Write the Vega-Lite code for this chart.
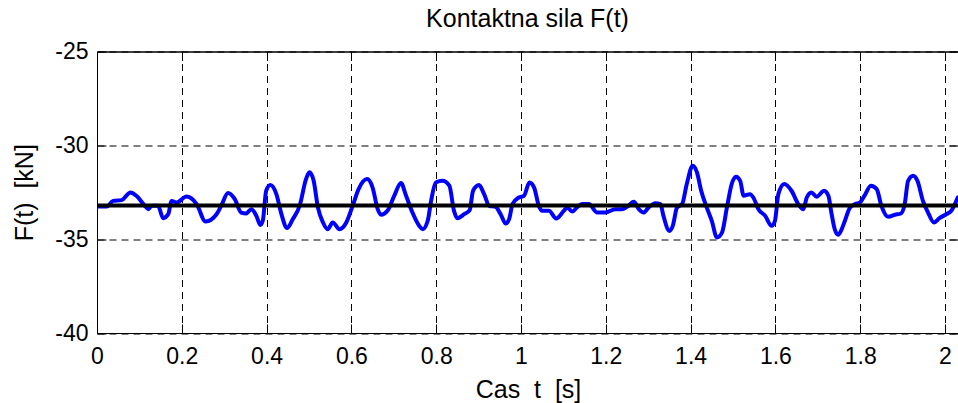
{
  "$schema": "https://vega.github.io/schema/vega-lite/v6.json",
  "autosize": "none",
  "width": 861,
  "height": 281.5,
  "padding": {"left": 97, "top": 51.5, "right": 0, "bottom": 70},
  "background": "white",
  "config": {
    "font": "Liberation Sans",
    "view": {"stroke": "black", "strokeWidth": 1},
    "axis": {
      "domainColor": "black",
      "tickColor": "black",
      "labelColor": "black",
      "titleColor": "black",
      "labelFont": "Liberation Sans",
      "titleFont": "Liberation Sans",
      "labelFontSize": 23,
      "titleFontSize": 25,
      "titleFontWeight": "normal",
      "gridColor": "black",
      "gridDash": [7, 5],
      "gridOpacity": 1,
      "gridWidth": 1
    }
  },
  "title": {
    "text": "Kontaktna sila F(t)",
    "font": "Liberation Sans",
    "fontSize": 25,
    "fontWeight": "normal",
    "color": "black",
    "anchor": "middle",
    "baseline": "alphabetic",
    "offset": 19,
    "dy": 30
  },
  "datasets": {
    "force": [
      {"t": 0.000, "F": -33.26}, {"t": 0.023, "F": -33.26}, {"t": 0.038, "F": -32.96}, {"t": 0.058, "F": -32.92},
      {"t": 0.079, "F": -32.51}, {"t": 0.093, "F": -32.69}, {"t": 0.113, "F": -33.22}, {"t": 0.121, "F": -33.40},
      {"t": 0.129, "F": -33.22}, {"t": 0.144, "F": -33.22}, {"t": 0.156, "F": -33.88}, {"t": 0.168, "F": -33.67},
      {"t": 0.176, "F": -32.96}, {"t": 0.188, "F": -33.05}, {"t": 0.211, "F": -32.73}, {"t": 0.235, "F": -33.13},
      {"t": 0.256, "F": -34.06}, {"t": 0.282, "F": -33.67}, {"t": 0.293, "F": -33.22}, {"t": 0.309, "F": -32.54},
      {"t": 0.325, "F": -32.87}, {"t": 0.340, "F": -33.58}, {"t": 0.352, "F": -33.63}, {"t": 0.364, "F": -33.40},
      {"t": 0.376, "F": -33.76}, {"t": 0.385, "F": -34.24}, {"t": 0.391, "F": -34.02}, {"t": 0.399, "F": -32.42},
      {"t": 0.409, "F": -32.12}, {"t": 0.423, "F": -32.60}, {"t": 0.435, "F": -33.67}, {"t": 0.448, "F": -34.41},
      {"t": 0.462, "F": -33.93}, {"t": 0.478, "F": -33.22}, {"t": 0.493, "F": -31.80}, {"t": 0.501, "F": -31.44},
      {"t": 0.511, "F": -31.89}, {"t": 0.521, "F": -33.31}, {"t": 0.533, "F": -34.11}, {"t": 0.544, "F": -34.47},
      {"t": 0.556, "F": -34.11}, {"t": 0.572, "F": -34.47}, {"t": 0.588, "F": -34.11}, {"t": 0.603, "F": -33.22},
      {"t": 0.617, "F": -32.33}, {"t": 0.637, "F": -31.80}, {"t": 0.650, "F": -32.25}, {"t": 0.662, "F": -33.40},
      {"t": 0.670, "F": -33.70}, {"t": 0.685, "F": -33.49}, {"t": 0.701, "F": -32.69}, {"t": 0.717, "F": -32.01},
      {"t": 0.729, "F": -32.69}, {"t": 0.744, "F": -33.58}, {"t": 0.760, "F": -34.29}, {"t": 0.768, "F": -34.47},
      {"t": 0.780, "F": -34.02}, {"t": 0.788, "F": -32.96}, {"t": 0.799, "F": -31.98}, {"t": 0.815, "F": -31.89},
      {"t": 0.831, "F": -32.15}, {"t": 0.842, "F": -33.49}, {"t": 0.850, "F": -33.88}, {"t": 0.866, "F": -33.67},
      {"t": 0.879, "F": -33.45}, {"t": 0.887, "F": -32.42}, {"t": 0.901, "F": -32.12}, {"t": 0.913, "F": -32.60},
      {"t": 0.925, "F": -33.22}, {"t": 0.940, "F": -33.28}, {"t": 0.952, "F": -33.67}, {"t": 0.964, "F": -34.17},
      {"t": 0.972, "F": -33.93}, {"t": 0.980, "F": -33.13}, {"t": 0.995, "F": -32.78}, {"t": 1.007, "F": -32.69},
      {"t": 1.020, "F": -31.98}, {"t": 1.031, "F": -32.25}, {"t": 1.042, "F": -33.22}, {"t": 1.050, "F": -33.49},
      {"t": 1.066, "F": -33.49}, {"t": 1.083, "F": -33.90}, {"t": 1.101, "F": -33.49}, {"t": 1.109, "F": -33.31},
      {"t": 1.121, "F": -33.53}, {"t": 1.132, "F": -33.31}, {"t": 1.144, "F": -33.13}, {"t": 1.160, "F": -33.13},
      {"t": 1.180, "F": -33.58}, {"t": 1.199, "F": -33.58}, {"t": 1.223, "F": -33.40}, {"t": 1.238, "F": -33.40},
      {"t": 1.250, "F": -33.28}, {"t": 1.266, "F": -33.01}, {"t": 1.278, "F": -33.40}, {"t": 1.289, "F": -33.58},
      {"t": 1.301, "F": -33.31}, {"t": 1.317, "F": -33.08}, {"t": 1.329, "F": -33.13}, {"t": 1.336, "F": -33.76},
      {"t": 1.350, "F": -34.56}, {"t": 1.358, "F": -34.29}, {"t": 1.368, "F": -33.31}, {"t": 1.380, "F": -33.13},
      {"t": 1.391, "F": -32.06}, {"t": 1.405, "F": -31.09}, {"t": 1.415, "F": -31.44}, {"t": 1.425, "F": -32.42},
      {"t": 1.438, "F": -33.31}, {"t": 1.450, "F": -34.02}, {"t": 1.462, "F": -34.91}, {"t": 1.474, "F": -34.65},
      {"t": 1.486, "F": -33.27}, {"t": 1.497, "F": -32.06}, {"t": 1.507, "F": -31.67}, {"t": 1.517, "F": -31.89},
      {"t": 1.525, "F": -32.69}, {"t": 1.540, "F": -32.60}, {"t": 1.548, "F": -32.78}, {"t": 1.560, "F": -33.40},
      {"t": 1.576, "F": -33.76}, {"t": 1.591, "F": -34.29}, {"t": 1.599, "F": -34.02}, {"t": 1.607, "F": -32.60},
      {"t": 1.621, "F": -32.06}, {"t": 1.638, "F": -32.42}, {"t": 1.654, "F": -33.13}, {"t": 1.666, "F": -33.40},
      {"t": 1.674, "F": -32.78}, {"t": 1.685, "F": -32.51}, {"t": 1.697, "F": -32.74}, {"t": 1.715, "F": -32.42},
      {"t": 1.725, "F": -32.69}, {"t": 1.732, "F": -33.58}, {"t": 1.740, "F": -34.47}, {"t": 1.748, "F": -34.77},
      {"t": 1.758, "F": -34.38}, {"t": 1.764, "F": -34.02}, {"t": 1.776, "F": -33.31}, {"t": 1.788, "F": -33.13},
      {"t": 1.799, "F": -33.05}, {"t": 1.811, "F": -32.65}, {"t": 1.825, "F": -32.15}, {"t": 1.839, "F": -32.33},
      {"t": 1.850, "F": -33.22}, {"t": 1.866, "F": -33.81}, {"t": 1.882, "F": -33.70}, {"t": 1.896, "F": -33.63},
      {"t": 1.905, "F": -33.13}, {"t": 1.913, "F": -31.89}, {"t": 1.925, "F": -31.62}, {"t": 1.935, "F": -31.89},
      {"t": 1.948, "F": -32.96}, {"t": 1.960, "F": -33.58}, {"t": 1.974, "F": -34.11}, {"t": 1.987, "F": -33.88},
      {"t": 2.003, "F": -33.67}, {"t": 2.015, "F": -33.49}, {"t": 2.030, "F": -32.78}
    ],
    "mean": [{"start": 0, "end": 2.0307, "F": -33.2}]
  },
  "layer": [
    {
      "data": {"name": "force"},
      "mark": {"type": "line", "color": "#0000ff", "strokeWidth": 4, "clip": true, "interpolate": "monotone", "strokeJoin": "round", "strokeCap": "round"},
      "encoding": {
        "x": {
          "field": "t", "type": "quantitative",
          "scale": {"domain": [0, 2.0307], "nice": false, "zero": false},
          "axis": {
            "orient": "bottom",
            "values": [0, 0.2, 0.4, 0.6, 0.8, 1, 1.2, 1.4, 1.6, 1.8, 2],
            "labelExpr": "toString(datum.value)",
            "title": "Cas \u00a0t \u00a0[s]",
            "titleX": 431,
            "titleY": 64,
            "titleBaseline": "alphabetic",
            "tickSize": -9,
            "labelPadding": 21,
            "labelBaseline": "top",
            "grid": true,
            "labelFlush": false,
            "labelOverlap": false
          }
        },
        "y": {
          "field": "F", "type": "quantitative",
          "scale": {"domain": [-40, -25], "nice": false, "zero": false},
          "axis": {
            "orient": "left",
            "values": [-40, -35, -30, -25],
            "labelExpr": "toString(datum.value)",
            "title": "F(t) \u00a0[kN]",
            "titleX": -65,
            "titleY": 140.75,
            "titleAngle": -90,
            "titleAlign": "center",
            "titleBaseline": "alphabetic",
            "tickSize": -9,
            "labelPadding": 18,
            "grid": true,
            "labelFlush": false,
            "labelOverlap": false
          }
        }
      }
    },
    {
      "data": {"name": "mean"},
      "mark": {"type": "rule", "color": "black", "strokeWidth": 4, "clip": true},
      "encoding": {
        "x": {
          "field": "start", "type": "quantitative",
          "axis": {
            "orient": "top",
            "values": [0, 0.2, 0.4, 0.6, 0.8, 1, 1.2, 1.4, 1.6, 1.8, 2],
            "labels": false, "grid": false, "title": null, "tickSize": -9
          }
        },
        "x2": {"field": "end"},
        "y": {
          "field": "F", "type": "quantitative",
          "axis": {
            "orient": "right",
            "values": [-40, -35, -30, -25],
            "labels": false, "grid": false, "title": null, "tickSize": -9
          }
        }
      }
    }
  ],
  "resolve": {"axis": {"x": "independent", "y": "independent"}}
}
